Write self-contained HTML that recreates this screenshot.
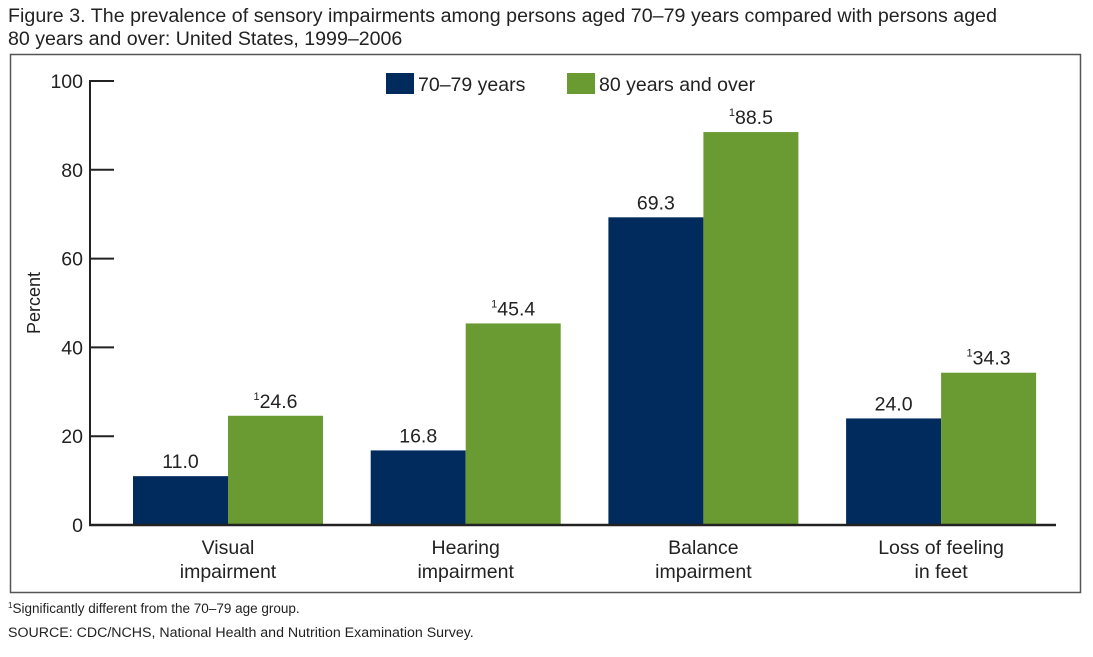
<!DOCTYPE html>
<html><head><meta charset="utf-8"><style>
body{margin:0;background:#fff;font-family:"Liberation Sans",Arial,sans-serif;}
svg text{font-family:"Liberation Sans",Arial,sans-serif;fill:#222;}
</style></head><body>
<svg id="c" width="1093" height="652" xmlns="http://www.w3.org/2000/svg">
<text x="8" y="22" font-size="19.6" textLength="989">Figure 3. The prevalence of sensory impairments among persons aged 70–79 years compared with persons aged</text>
<text x="8" y="45" font-size="19.6">80 years and over: United States, 1999–2006</text>
<rect x="10.5" y="54.5" width="1070" height="538" fill="none" stroke="#555" stroke-width="1.5"/>
<text x="8" y="613" font-size="13.5"><tspan font-size="8" dy="-5">1</tspan><tspan dy="5">Significantly different from the 70–79 age group.</tspan></text>
<text x="8" y="637" font-size="14.2">SOURCE: CDC/NCHS, National Health and Nutrition Examination Survey.</text>
<g id="plot"></g>
</svg>
<script>
const categories=[["Visual","impairment"],["Hearing","impairment"],["Balance","impairment"],["Loss of feeling","in feet"]];
const young=[11.0,16.8,69.3,24.0];
const old=[24.6,45.4,88.5,34.3];
const yTicks=[0,20,40,60,80,100];
const seriesNames=["70–79 years","80 years and over"];
const NS="http://www.w3.org/2000/svg";
const g=document.getElementById('plot');
const X0=90,Y0=525,Y1=81,YMAX=100;
const y=v=>Y0-(v/YMAX)*(Y0-Y1);
const groupX=i=>228+i*237.7;
const BW=95;
const FS=19.5;
function el(t,a,txt){const e=document.createElementNS(NS,t);for(const k in a)e.setAttribute(k,a[k]);if(txt!==undefined)e.textContent=txt;g.appendChild(e);return e;}
let e;
e=el('line',{x1:X0,y1:Y1-1,x2:X0,y2:Y0+1,stroke:'#222','stroke-width':2});


yTicks.forEach(t=>{
 if(t>0){e=el('line',{x1:X0,y1:y(t),x2:X0+24,y2:y(t),stroke:'#222','stroke-width':2});
 
 }
 e=el('text',{x:X0-7,y:y(t)+7,'font-size':FS,'text-anchor':'end'},String(t));
 
 
});
e=el('text',{x:40,y:303,'font-size':18,'text-anchor':'middle',transform:'rotate(-90 40 303)'},'Percent');


const cols=['#002b5c','#6a9b33'];
categories.forEach((c,i)=>{
 const cx=groupX(i);
 [young[i],old[i]].forEach((v,s)=>{
  const x=s===0?cx-BW:cx;
  e=el('rect',{x:x,y:y(v),width:BW,height:Y0-y(v),fill:cols[s]});
  
  
  e=el('text',{x:x+BW/2,y:y(v)-8,'font-size':FS,'text-anchor':'middle'});
  
  
  if(s===1){const sp=document.createElementNS(NS,'tspan');sp.setAttribute('font-size','11');sp.setAttribute('dy','-8');sp.textContent='1';e.appendChild(sp);
   const sp2=document.createElementNS(NS,'tspan');sp2.setAttribute('dy','8');sp2.textContent=v.toFixed(1);e.appendChild(sp2);}
  else e.textContent=v.toFixed(1);
 });
 c.forEach((line,j)=>{
  e=el('text',{x:cx,y:554+j*24,'font-size':FS,'text-anchor':'middle'},line);
  
  
 });
});
e=el('line',{x1:X0-1,y1:Y0,x2:1056,y2:Y0,stroke:'#222','stroke-width':2.5});


[[386,seriesNames[0]],[567,seriesNames[1]]].forEach(([lx,n],s)=>{
 e=el('rect',{x:lx,y:73,width:28,height:21,fill:cols[s]});
 
 
 e=el('text',{x:lx+32,y:91,'font-size':FS},n);
 
 
});
</script>
</body></html>
